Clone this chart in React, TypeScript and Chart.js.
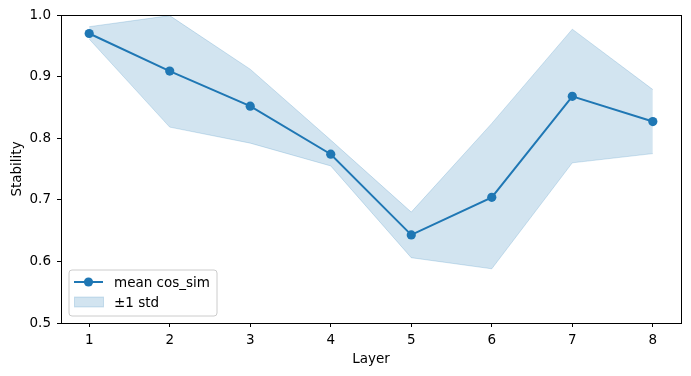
import React, { useEffect, useRef } from "react";
import { Chart, registerables } from "chart.js";

Chart.register(...registerables);

const layers = [1, 2, 3, 4, 5, 6, 7, 8];
const meanCos = [0.970, 0.909, 0.852, 0.774, 0.643, 0.704, 0.868, 0.827];
const upperStd = [0.981, 0.999, 0.912, 0.797, 0.680, 0.824, 0.977, 0.879];
const lowerStd = [0.961, 0.818, 0.792, 0.755, 0.606, 0.588, 0.760, 0.775];
const yTicks = [0.5, 0.6, 0.7, 0.8, 0.9, 1.0];
const legendLabels = ["mean cos_sim", "±1 std"];

const BLUE = "#1f77b4";
const BAND = "rgba(31,119,180,0.2)";
const FONT = "DejaVu Sans";
const FS = 13.5;

const framePlugin = {
  id: "frame",
  afterDraw(chart: any) {
    const { ctx, chartArea } = chart;
    const { left, top, right, bottom } = chartArea;
    ctx.save();
    ctx.strokeStyle = "#000";
    ctx.lineWidth = 1;
    ctx.strokeRect(Math.round(left) + 0.5, Math.round(top) + 0.5, Math.round(right - left), Math.round(bottom - top));

    // legend
    const lx = left + 8;
    const ly = bottom - 53;
    const lw = 148;
    const lh = 46;
    const r = 3;
    ctx.beginPath();
    ctx.moveTo(lx + r, ly);
    ctx.lineTo(lx + lw - r, ly);
    ctx.quadraticCurveTo(lx + lw, ly, lx + lw, ly + r);
    ctx.lineTo(lx + lw, ly + lh - r);
    ctx.quadraticCurveTo(lx + lw, ly + lh, lx + lw - r, ly + lh);
    ctx.lineTo(lx + r, ly + lh);
    ctx.quadraticCurveTo(lx, ly + lh, lx, ly + lh - r);
    ctx.lineTo(lx, ly + r);
    ctx.quadraticCurveTo(lx, ly, lx + r, ly);
    ctx.closePath();
    ctx.fillStyle = "rgba(255,255,255,0.8)";
    ctx.fill();
    ctx.strokeStyle = "#cccccc";
    ctx.stroke();

    const y1 = ly + 12;
    ctx.strokeStyle = BLUE;
    ctx.lineWidth = 2;
    ctx.beginPath();
    ctx.moveTo(lx + 5, y1);
    ctx.lineTo(lx + 34, y1);
    ctx.stroke();
    ctx.fillStyle = BLUE;
    ctx.beginPath();
    ctx.arc(lx + 19.5, y1, 4.6, 0, Math.PI * 2);
    ctx.fill();

    const y2 = ly + 32;
    ctx.fillStyle = BAND;
    ctx.fillRect(lx + 5.5, y2 - 5, 29, 10);
    ctx.strokeStyle = BAND;
    ctx.lineWidth = 1;
    ctx.strokeRect(lx + 5.5, y2 - 5, 29, 10);

    ctx.fillStyle = "#000";
    ctx.font = `${FS}px "${FONT}"`;
    ctx.textBaseline = "middle";
    ctx.textAlign = "left";
    ctx.fillText(legendLabels[0], lx + 45, y1 + 1);
    ctx.fillText(legendLabels[1], lx + 45, y2 + 1);
    ctx.restore();
  },
};

export default function App() {
  const ref = useRef<HTMLCanvasElement>(null);
  useEffect(() => {
    if (!ref.current) return;
    const toPts = (arr: number[]) => arr.map((v, i) => ({ x: layers[i], y: v }));
    const chart = new Chart(ref.current, {
      type: "line",
      data: {
        datasets: [
          {
            label: legendLabels[0],
            data: toPts(meanCos),
            borderColor: BLUE,
            backgroundColor: BLUE,
            borderWidth: 2,
            pointRadius: 4.6,
            pointBorderWidth: 0,
            pointBackgroundColor: BLUE,
            fill: false,
            tension: 0,
          },
          {
            label: "upper",
            data: toPts(upperStd),
            borderColor: BAND,
            borderWidth: 1,
            pointRadius: 0,
            backgroundColor: BAND,
            fill: "+1",
            tension: 0,
          },
          {
            label: "lower",
            data: toPts(lowerStd),
            borderColor: BAND,
            borderWidth: 1,
            pointRadius: 0,
            backgroundColor: BAND,
            fill: false,
            tension: 0,
          },
        ],
      },
      options: {
        animation: false,
        responsive: false,
        events: [],
        layout: { padding: { top: 15, right: 10, left: 0, bottom: 0 } },
        plugins: { legend: { display: false }, tooltip: { enabled: false } },
        scales: {
          x: {
            type: "linear",
            min: 0.65,
            max: 8.35,
            afterBuildTicks: (s: any) => {
              s.ticks = layers.map((v) => ({ value: v }));
            },
            afterFit: (s: any) => {
              s.height = 53;
            },
            grid: { display: true, drawOnChartArea: false, drawTicks: true, tickLength: 4, color: "#000" },
            border: { display: true, color: "#000" },
            ticks: {
              color: "#000",
              font: { family: FONT, size: FS },
              padding: 5,
              maxRotation: 0,
              callback: (v: any) => String(v),
            },
            title: {
              display: true,
              text: "Layer",
              color: "#000",
              font: { family: FONT, size: FS },
              padding: { top: 0, bottom: 8 },
            },
          },
          y: {
            type: "linear",
            min: 0.5,
            max: 1.0,
            afterBuildTicks: (s: any) => {
              s.ticks = yTicks.map((v) => ({ value: v }));
            },
            afterFit: (s: any) => {
              s.width = 61;
            },
            grid: { display: true, drawOnChartArea: false, drawTicks: true, tickLength: 4, color: "#000" },
            border: { display: true, color: "#000" },
            ticks: {
              color: "#000",
              font: { family: FONT, size: FS },
              padding: 6,
              callback: (v: any) => Number(v).toFixed(1),
            },
            title: {
              display: true,
              text: "Stability",
              color: "#000",
              font: { family: FONT, size: FS },
              padding: { top: 9, bottom: 0 },
            },
          },
        },
      },
      plugins: [framePlugin],
    } as any);
    return () => chart.destroy();
  }, []);
  return (
    <div style={{ position: "fixed", left: 0, top: 0, width: 691, height: 376, background: "#fff" }}>
      <canvas ref={ref} width={691} height={376} style={{ width: 691, height: 376, display: "block" }} />
    </div>
  );
}
